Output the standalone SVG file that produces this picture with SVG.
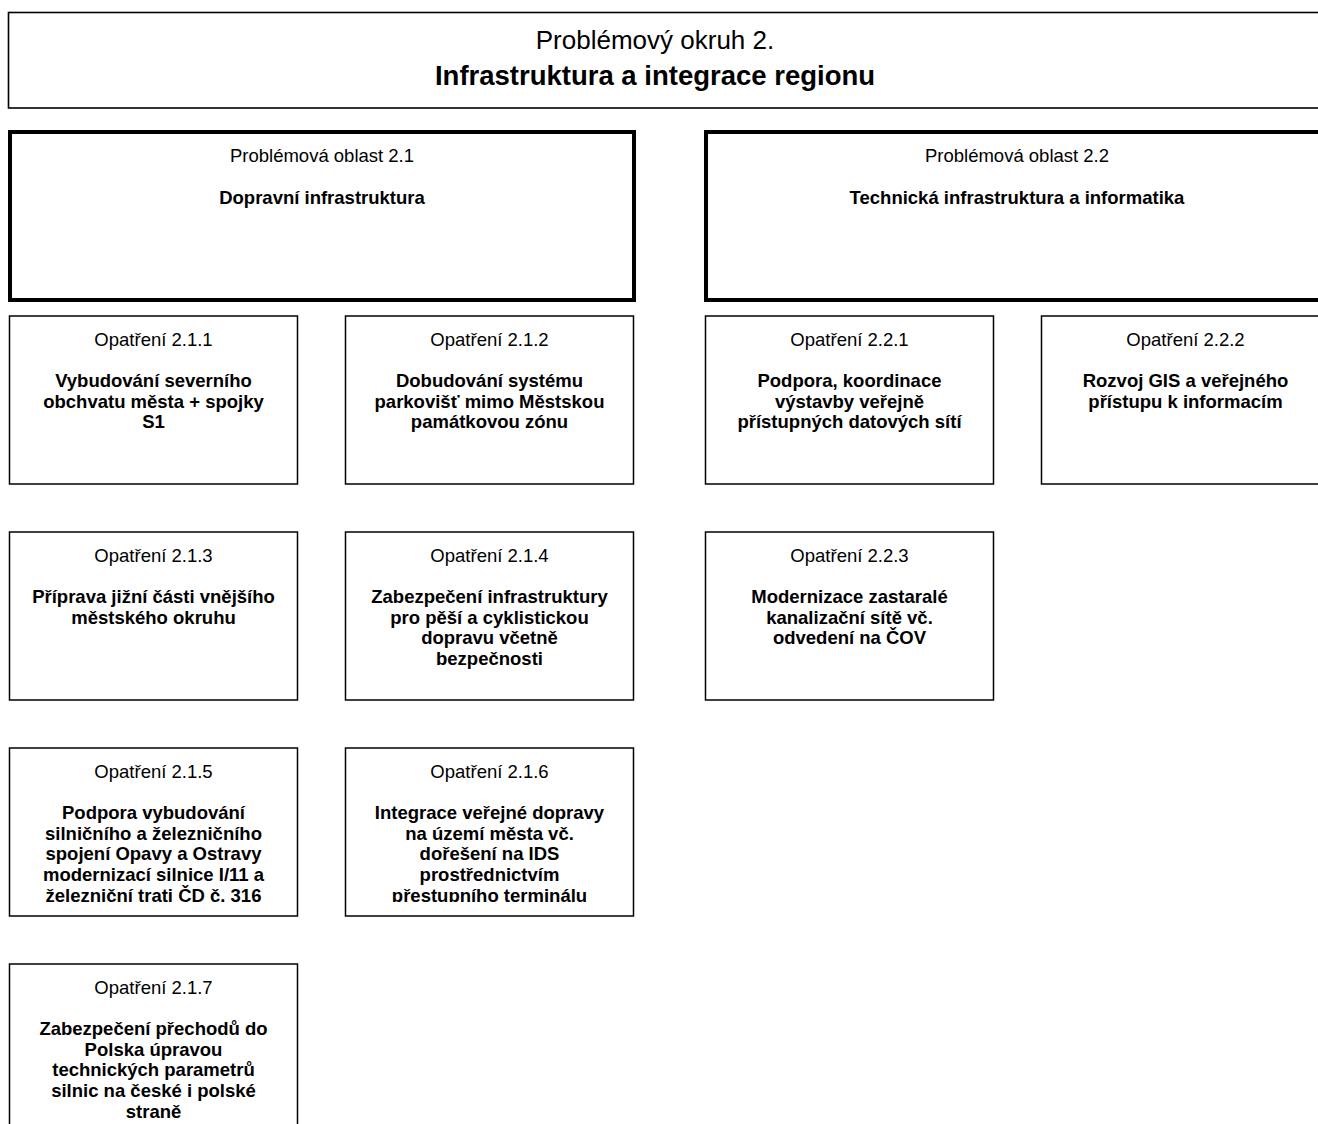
<svg xmlns="http://www.w3.org/2000/svg" width="1318" height="1124" viewBox="0 0 1318 1124">
<style>
  .bg{fill:#fff}
  .box{fill:#fff;stroke:#000;stroke-width:1.5}
  .area{fill:#fff;stroke:#000;stroke-width:4}
  .top{fill:#fff;stroke:#000;stroke-width:1.6}
  text{font-family:"Liberation Sans",Arial,sans-serif;fill:#000;text-anchor:middle}
  .t{font-size:18.5px}
  .b{font-size:18.5px;font-weight:bold}
  .tt{font-size:26px}
  .tb{font-size:27.5px;font-weight:bold}
</style>
<defs>
  <clipPath id="clipRow3" clipPathUnits="userSpaceOnUse"><rect x="0" y="750" width="700" height="152"/></clipPath>
</defs>
<rect class="bg" x="0" y="0" width="1318" height="1124"/>
<g id="okruh2">
  <rect class="top" x="8.5" y="12.5" width="1400" height="95.5"/>
  <text class="tt" x="655" y="49">Problémový okruh 2.</text>
  <text class="tb" x="655" y="85">Infrastruktura a integrace regionu</text>
</g>
<g id="oblast21">
  <rect class="area" x="10" y="132" width="624" height="168"/>
  <text class="t" x="322" y="162">Problémová oblast 2.1</text>
  <text class="b" x="322" y="204">Dopravní infrastruktura</text>
</g>
<g id="oblast22">
  <rect class="area" x="706" y="132" width="624" height="168"/>
  <text class="t" x="1017" y="162">Problémová oblast 2.2</text>
  <text class="b" x="1017" y="204">Technická infrastruktura a informatika</text>
</g>
<g id="op211">
  <rect class="box" x="9.5" y="316" width="288" height="168"/>
  <text class="t" x="153.5" y="346">Opatření 2.1.1</text>
  <text class="b" x="153.5" y="387">Vybudování severního</text>
  <text class="b" x="153.5" y="407.7">obchvatu města + spojky</text>
  <text class="b" x="153.5" y="428.4">S1</text>
</g>
<g id="op212">
  <rect class="box" x="345.5" y="316" width="288" height="168"/>
  <text class="t" x="489.5" y="346">Opatření 2.1.2</text>
  <text class="b" x="489.5" y="387">Dobudování systému</text>
  <text class="b" x="489.5" y="407.7">parkovišť mimo Městskou</text>
  <text class="b" x="489.5" y="428.4">památkovou zónu</text>
</g>
<g id="op221">
  <rect class="box" x="705.5" y="316" width="288" height="168"/>
  <text class="t" x="849.5" y="346">Opatření 2.2.1</text>
  <text class="b" x="849.5" y="387">Podpora, koordinace</text>
  <text class="b" x="849.5" y="407.7">výstavby veřejně</text>
  <text class="b" x="849.5" y="428.4">přístupných datových sítí</text>
</g>
<g id="op222">
  <rect class="box" x="1041.5" y="316" width="288" height="168"/>
  <text class="t" x="1185.5" y="346">Opatření 2.2.2</text>
  <text class="b" x="1185.5" y="387">Rozvoj GIS a veřejného</text>
  <text class="b" x="1185.5" y="407.7">přístupu k informacím</text>
</g>
<g id="op213">
  <rect class="box" x="9.5" y="532" width="288" height="168"/>
  <text class="t" x="153.5" y="562">Opatření 2.1.3</text>
  <text class="b" x="153.5" y="603">Příprava jižní části vnějšího</text>
  <text class="b" x="153.5" y="623.7">městského okruhu</text>
</g>
<g id="op214">
  <rect class="box" x="345.5" y="532" width="288" height="168"/>
  <text class="t" x="489.5" y="562">Opatření 2.1.4</text>
  <text class="b" x="489.5" y="603">Zabezpečení infrastruktury</text>
  <text class="b" x="489.5" y="623.7">pro pěší a cyklistickou</text>
  <text class="b" x="489.5" y="644.4">dopravu včetně</text>
  <text class="b" x="489.5" y="665.1">bezpečnosti</text>
</g>
<g id="op223">
  <rect class="box" x="705.5" y="532" width="288" height="168"/>
  <text class="t" x="849.5" y="562">Opatření 2.2.3</text>
  <text class="b" x="849.5" y="603">Modernizace zastaralé</text>
  <text class="b" x="849.5" y="623.7">kanalizační sítě vč.</text>
  <text class="b" x="849.5" y="644.4">odvedení na ČOV</text>
</g>
<g id="op215">
  <rect class="box" x="9.5" y="748" width="288" height="168"/>
  <g clip-path="url(#clipRow3)">
    <text class="t" x="153.5" y="778">Opatření 2.1.5</text>
    <text class="b" x="153.5" y="819">Podpora vybudování</text>
    <text class="b" x="153.5" y="839.7">silničního a železničního</text>
    <text class="b" x="153.5" y="860.4">spojení Opavy a Ostravy</text>
    <text class="b" x="153.5" y="881.1">modernizací silnice I/11 a</text>
    <text class="b" x="153.5" y="901.8">železniční trati ČD č. 316</text>
  </g>
</g>
<g id="op216">
  <rect class="box" x="345.5" y="748" width="288" height="168"/>
  <g clip-path="url(#clipRow3)">
    <text class="t" x="489.5" y="778">Opatření 2.1.6</text>
    <text class="b" x="489.5" y="819">Integrace veřejné dopravy</text>
    <text class="b" x="489.5" y="839.7">na území města vč.</text>
    <text class="b" x="489.5" y="860.4">dořešení na IDS</text>
    <text class="b" x="489.5" y="881.1">prostřednictvím</text>
    <text class="b" x="489.5" y="901.8">přestupního terminálu</text>
  </g>
</g>
<g id="op217">
  <rect class="box" x="9.5" y="964" width="288" height="200"/>
  <text class="t" x="153.5" y="994">Opatření 2.1.7</text>
  <text class="b" x="153.5" y="1035">Zabezpečení přechodů do</text>
  <text class="b" x="153.5" y="1055.7">Polska úpravou</text>
  <text class="b" x="153.5" y="1076.4">technických parametrů</text>
  <text class="b" x="153.5" y="1097.1">silnic na české i polské</text>
  <text class="b" x="153.5" y="1117.8">straně</text>
</g>
<g id="connectors"/>
</svg>
